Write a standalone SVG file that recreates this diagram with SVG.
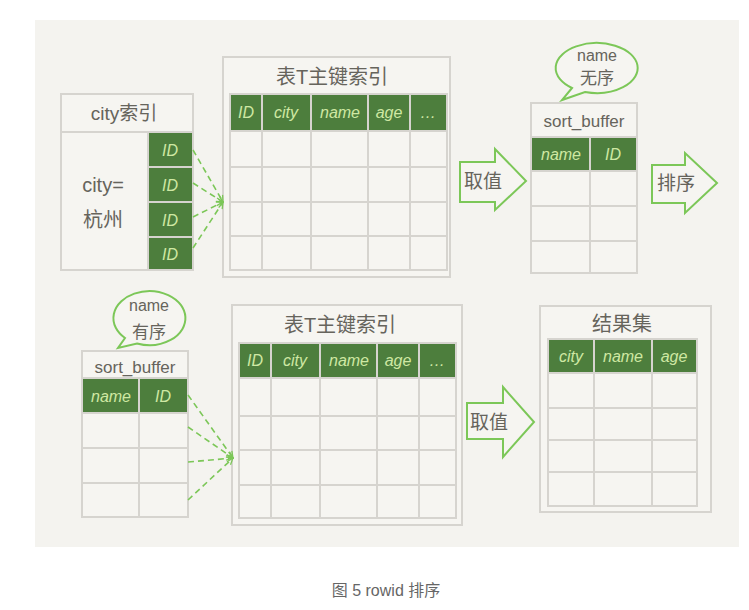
<svg xmlns="http://www.w3.org/2000/svg" width="749" height="610" viewBox="0 0 749 610">
<defs>
<style>
.box{fill:#f6f5f1;stroke:#d6d4cf;stroke-width:2}
.grid{fill:none;stroke:#d6d4cf;stroke-width:2}
.hdr{fill:#4d7e3d;stroke:#d6d4cf;stroke-width:2}
.ht{font-family:"Liberation Sans","Noto Sans CJK SC",sans-serif;font-size:16px;font-style:italic;fill:#cfe8a3;text-anchor:middle}
.t{font-family:"Liberation Sans","Noto Sans CJK SC",sans-serif;fill:#66645c;text-anchor:middle}
.bub{fill:#f6f5f1;stroke:#7cc758;stroke-width:2}
.arr{fill:#f6f5f1;stroke:#7cc758;stroke-width:2;stroke-linejoin:miter}
.dash{fill:none;stroke:#7cc758;stroke-width:1.6;stroke-dasharray:6 4}
.cap{font-family:"Liberation Sans","Noto Sans CJK SC",sans-serif;font-size:16px;fill:#666;text-anchor:middle}
</style>
<marker id="chev" viewBox="0 0 10 10" refX="9" refY="5" markerWidth="8" markerHeight="8" orient="auto" markerUnits="userSpaceOnUse">
<path d="M1 1 L9 5 L1 9" fill="none" stroke="#7cc758" stroke-width="1.6"/>
</marker>
</defs>
<rect x="0" y="0" width="749" height="610" fill="#ffffff"/>
<rect x="35" y="20" width="704" height="527" fill="#f4f3ef"/>

<g id="city-index">
<rect class="box" x="61" y="94" width="132" height="176"/>
<line class="grid" x1="61" y1="132" x2="193" y2="132"/>
<rect class="hdr" x="148" y="132" width="45" height="35"/>
<rect class="hdr" x="148" y="167" width="45" height="35"/>
<rect class="hdr" x="148" y="202" width="45" height="35"/>
<rect class="hdr" x="148" y="237" width="45" height="33"/>
<text class="t" x="124" y="120" font-size="19">city索引</text>
<text class="t" x="103" y="192" font-size="20">city=</text>
<text class="t" x="103" y="227" font-size="20">杭州</text>
<text class="ht" x="170" y="156">ID</text>
<text class="ht" x="170" y="191">ID</text>
<text class="ht" x="170" y="226">ID</text>
<text class="ht" x="170" y="260">ID</text>
</g>

<g id="table-top">
<rect class="box" x="223" y="57" width="227" height="220"/>
<text class="t" x="332" y="84" font-size="20">表T主键索引</text>
<rect class="hdr" x="230" y="94" width="32" height="37"/>
<rect class="hdr" x="262" y="94" width="49" height="37"/>
<rect class="hdr" x="311" y="94" width="57" height="37"/>
<rect class="hdr" x="368" y="94" width="42" height="37"/>
<rect class="hdr" x="410" y="94" width="37" height="37"/>
<text class="ht" x="246" y="118">ID</text>
<text class="ht" x="286" y="118">city</text>
<text class="ht" x="340" y="118">name</text>
<text class="ht" x="389" y="118">age</text>
<text class="ht" x="428" y="118">…</text>
<rect class="grid" x="230" y="131" width="217" height="139"/>
<path class="grid" d="M230 167H447M230 202H447M230 236H447M262 131V270M311 131V270M368 131V270M410 131V270"/>
</g>

<g id="take-top">
<path class="arr" d="M460 162 H495 V149 L526 181 L495 210 V202 H460 Z"/>
<text class="t" x="483" y="188" font-size="19">取值</text>
</g>

<g id="bubble-top">
<path class="bub" d="M585 92 A41 25 0 1 0 572 88 L562 100 Z"/>
<text class="t" x="597" y="61" font-size="16">name</text>
<text class="t" x="597" y="84" font-size="17">无序</text>
</g>

<g id="sortbuf-top">
<rect class="box" x="531" y="103" width="106" height="170"/>
<text class="t" x="584" y="127" font-size="17">sort_buffer</text>
<rect class="hdr" x="531" y="137" width="59" height="34"/>
<rect class="hdr" x="590" y="137" width="47" height="34"/>
<text class="ht" x="561" y="160">name</text>
<text class="ht" x="613" y="160">ID</text>
<path class="grid" d="M531 206H637M531 241H637M590 171V273"/>
</g>

<g id="sort-arrow">
<path class="arr" d="M652 165 H685 V153 L717 183 L685 213 V203 H652 Z"/>
<text class="t" x="676" y="190" font-size="19">排序</text>
</g>

<g id="bubble-bottom">
<path class="bub" d="M137 343.5 A36 27 0 1 0 125 338 L118 348 Z"/>
<text class="t" x="149" y="311" font-size="16">name</text>
<text class="t" x="149" y="338" font-size="17">有序</text>
</g>

<g id="sortbuf-bottom">
<rect class="box" x="82" y="351" width="106" height="166"/>
<text class="t" x="135" y="373" font-size="17">sort_buffer</text>
<rect class="hdr" x="82" y="378" width="57" height="35"/>
<rect class="hdr" x="139" y="378" width="49" height="35"/>
<text class="ht" x="111" y="402">name</text>
<text class="ht" x="163" y="402">ID</text>
<path class="grid" d="M82 448H188M82 483H188M139 413V517"/>
</g>

<g id="table-bottom">
<rect class="box" x="232" y="305" width="230" height="220"/>
<text class="t" x="340" y="332" font-size="20">表T主键索引</text>
<rect class="hdr" x="239" y="343" width="32" height="35"/>
<rect class="hdr" x="271" y="343" width="49" height="35"/>
<rect class="hdr" x="320" y="343" width="57" height="35"/>
<rect class="hdr" x="377" y="343" width="42" height="35"/>
<rect class="hdr" x="419" y="343" width="37" height="35"/>
<text class="ht" x="255" y="366">ID</text>
<text class="ht" x="295" y="366">city</text>
<text class="ht" x="349" y="366">name</text>
<text class="ht" x="398" y="366">age</text>
<text class="ht" x="437" y="366">…</text>
<rect class="grid" x="239" y="378" width="217" height="140"/>
<path class="grid" d="M239 416H456M239 450H456M239 485H456M271 378V518M320 378V518M377 378V518M419 378V518"/>
</g>

<g id="take-bottom">
<path class="arr" d="M467 403 H503 V387 L534 422 L503 457 V439 H467 Z"/>
<text class="t" x="489" y="429" font-size="19">取值</text>
</g>

<g id="result-set">
<rect class="box" x="540" y="306" width="171" height="206"/>
<text class="t" x="622" y="331" font-size="20">结果集</text>
<rect class="hdr" x="548" y="339" width="46" height="34"/>
<rect class="hdr" x="594" y="339" width="58" height="34"/>
<rect class="hdr" x="652" y="339" width="45" height="34"/>
<text class="ht" x="571" y="362">city</text>
<text class="ht" x="623" y="362">name</text>
<text class="ht" x="674" y="362">age</text>
<rect class="grid" x="548" y="373" width="149" height="133"/>
<path class="grid" d="M548 408H697M548 440H697M548 472H697M594 373V506M652 373V506"/>
</g>

<g id="connectors">
<path class="dash" d="M193 150 L223 202" marker-end="url(#chev)"/>
<path class="dash" d="M193 183 L223 202" marker-end="url(#chev)"/>
<path class="dash" d="M193 217 L223 202" marker-end="url(#chev)"/>
<path class="dash" d="M193 248 L223 202" marker-end="url(#chev)"/>
<path class="dash" d="M188 395 L233 458" marker-end="url(#chev)"/>
<path class="dash" d="M188 427 L233 458" marker-end="url(#chev)"/>
<path class="dash" d="M188 462 L233 458" marker-end="url(#chev)"/>
<path class="dash" d="M188 500 L233 458" marker-end="url(#chev)"/>
</g>

<g id="caption">
<text class="cap" x="386" y="596">图 5 rowid 排序</text>
</g>
</svg>
